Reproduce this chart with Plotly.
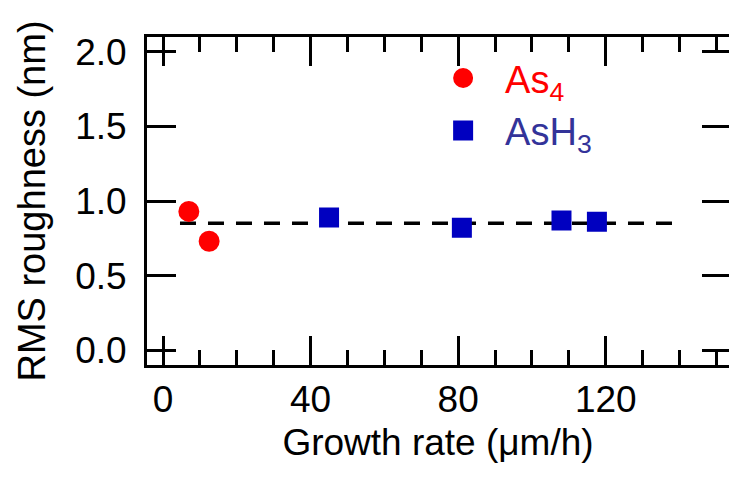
import plotly.graph_objects as go

# Growth rate (um/h) and RMS roughness (nm) for each arsenic source
as4_rate = [7.0, 12.5]
as4_rms = [0.93, 0.73]
ash3_rate = [45.0, 81.0, 108.0, 117.6]
ash3_rms = [0.89, 0.82, 0.87, 0.86]

# Mean-roughness guide line
guide_rate = [4.6, 138.0]
guide_rms = [0.85, 0.85]

x_ticks = [0, 40, 80, 120]
y_ticks = [0.0, 0.5, 1.0, 1.5, 2.0]
y_tick_labels = ["0.0", "0.5", "1.0", "1.5", "2.0"]

FONT = "Liberation Sans, Arial, sans-serif"
RED = "#FF0000"
BLUE = "#0000C0"
LEG_BLUE = "#333399"

fig = go.Figure()

fig.add_trace(go.Scatter(
    x=guide_rate, y=guide_rms, mode="lines",
    line=dict(color="black", width=3.5, dash="16px,12px"),
    showlegend=False, hoverinfo="skip",
))

# an outline in the fill colour keeps the legend keys large
fig.add_trace(go.Scatter(
    x=as4_rate, y=as4_rms, mode="markers",
    marker=dict(symbol="circle", size=17, color=RED,
                line=dict(color=RED, width=4)),
    name=f"<span style='color:{RED}'>As<sub>4</sub></span>",
))

fig.add_trace(go.Scatter(
    x=ash3_rate, y=ash3_rms, mode="markers",
    marker=dict(symbol="square", size=16, color=BLUE,
                line=dict(color=BLUE, width=4)),
    name=f"<span style='color:{LEG_BLUE}'>AsH<sub>3</sub></span>",
))

# right-hand tick marks (no axis line on that side)
fig.add_trace(go.Scatter(
    x=[None], y=[None], yaxis="y2", showlegend=False, hoverinfo="skip",
))

x_range = [-4.34, 153.4]
y_range = [-0.1, 2.1]

fig.update_layout(
    width=729, height=482,
    margin=dict(l=147, r=0, t=37, b=117, pad=0),
    paper_bgcolor="white", plot_bgcolor="white",
    font=dict(family=FONT, size=37, color="black"),
    xaxis=dict(
        range=x_range, showgrid=False, zeroline=False,
        showline=True, linecolor="black", linewidth=3, mirror="ticks",
        ticks="inside", ticklen=29, tickwidth=3, tickcolor="black",
        tickvals=x_ticks, tickfont=dict(size=37),
        minor=dict(ticks="inside", ticklen=15, tickwidth=3, tickcolor="black",
                   dtick=10, tick0=0, showgrid=False),
        title=dict(text="Growth rate (μm/h)", font=dict(size=37), standoff=10),
    ),
    yaxis=dict(
        range=y_range, showgrid=False, zeroline=False,
        showline=True, linecolor="black", linewidth=3,
        ticks="inside", ticklen=29, tickwidth=3, tickcolor="black",
        tickvals=y_ticks, ticktext=y_tick_labels, tickfont=dict(size=37),
        ticklabelstandoff=10,
        title=dict(text="RMS roughness (nm)", font=dict(size=38), standoff=18),
    ),
    yaxis2=dict(
        range=y_range, overlaying="y", side="right", anchor="x",
        showgrid=False, zeroline=False, showline=False,
        ticks="inside", ticklen=27, tickwidth=3, tickcolor="black",
        tickvals=y_ticks, showticklabels=False,
    ),
    legend=dict(
        x=0.471, y=0.97, xanchor="left", yanchor="top",
        bgcolor="rgba(0,0,0,0)", font=dict(size=38, family=FONT),
        itemwidth=74, itemsizing="trace",
    ),
)

fig.write_html("out.html")
